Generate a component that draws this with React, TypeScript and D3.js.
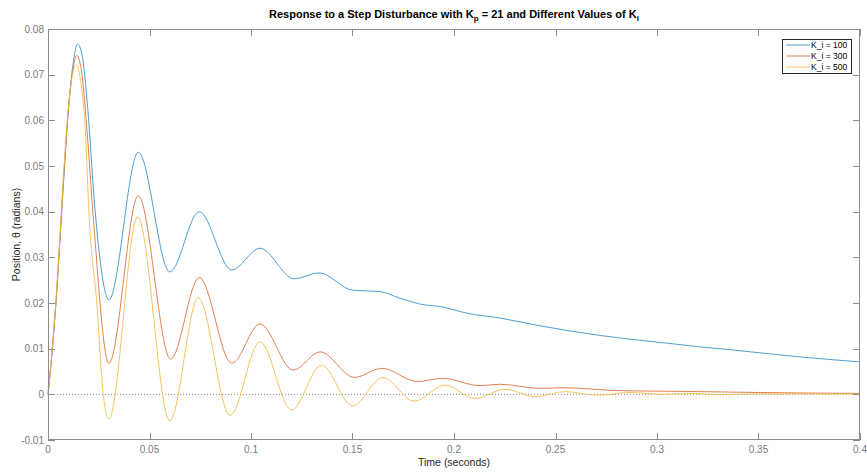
import { useRef, useEffect } from 'react';
import * as d3 from 'd3';

const W = 867;
const H = 475;
const PLOT = { left: 48, right: 860, top: 29, bottom: 440 };

// [time (s), position (rad)]
const KI_100: [number, number][] = [
  [0, 0], [0.002, 0.0092], [0.004, 0.0205], [0.006, 0.0345], [0.008, 0.049],
  [0.010, 0.062], [0.012, 0.0712], [0.0146, 0.0767], [0.017, 0.0738], [0.0195, 0.063],
  [0.0232, 0.0402], [0.030, 0.0207], [0.0445, 0.053], [0.060, 0.0268], [0.0745, 0.040],
  [0.0905, 0.0272], [0.1044, 0.032], [0.1213, 0.0253], [0.1335, 0.0266], [0.150, 0.0228],
  [0.1635, 0.0225], [0.173, 0.0211], [0.183, 0.0198], [0.1948, 0.0191], [0.206, 0.0178],
  [0.2227, 0.0167], [0.2424, 0.015], [0.272, 0.0129], [0.3048, 0.0112], [0.321, 0.0104],
  [0.3376, 0.0097], [0.3704, 0.0082], [0.4, 0.0071],
];

const KI_300: [number, number][] = [
  [0, 0], [0.002, 0.0093], [0.004, 0.0208], [0.006, 0.035], [0.008, 0.0495],
  [0.010, 0.0622], [0.012, 0.0703], [0.0141, 0.0742], [0.0165, 0.0708], [0.019, 0.059],
  [0.0222, 0.0394], [0.030, 0.0068], [0.0445, 0.0435], [0.0604, 0.0077], [0.0745, 0.0256],
  [0.0905, 0.0068], [0.1044, 0.0154], [0.1208, 0.0053], [0.134, 0.0093], [0.151, 0.0037],
  [0.1644, 0.0057], [0.182, 0.0028], [0.1943, 0.0035], [0.2128, 0.0019], [0.2227, 0.0022],
  [0.2424, 0.0013], [0.253, 0.00145], [0.2818, 0.0008], [0.30, 0.0007], [0.32, 0.0006],
  [0.35, 0.0004], [0.4, 0.0002],
];

const KI_500: [number, number][] = [
  [0, 0], [0.002, 0.0095], [0.004, 0.021], [0.006, 0.0355], [0.008, 0.0505],
  [0.010, 0.0625], [0.012, 0.0700], [0.0138, 0.0721], [0.016, 0.0688], [0.0185, 0.057],
  [0.0202, 0.0394], [0.024, 0.0202], [0.0272, 0.0], [0.030, -0.0054], [0.0442, 0.0389],
  [0.060, -0.0058], [0.074, 0.0211], [0.0897, -0.0046], [0.1044, 0.0115], [0.120, -0.0034],
  [0.1348, 0.0064], [0.150, -0.0025], [0.165, 0.0037], [0.1803, -0.0015], [0.1956, 0.002],
  [0.2103, -0.0009], [0.2251, 0.0011], [0.240, -0.0005], [0.2547, 0.0006], [0.2703, -0.0002],
  [0.2867, 0.0004], [0.302, 0.0], [0.317, 0.0002], [0.332, -0.0001], [0.35, 0.0001],
  [0.4, 0.0001],
];

const SERIES_NAMES = ['K_i = 100', 'K_i = 300', 'K_i = 500'];
const SERIES_COLORS = ['#2f8cd0', '#de6a35', '#efbb3e'];
const X_TICKS = [0, 0.05, 0.1, 0.15, 0.2, 0.25, 0.3, 0.35, 0.4];
const Y_TICKS = [-0.01, 0, 0.01, 0.02, 0.03, 0.04, 0.05, 0.06, 0.07, 0.08];

const FONT = '"Liberation Sans", Arial, Helvetica, sans-serif';
const AXIS_COLOR = '#8c8c8c';
const TICK_LEN = 7;

export default function App() {
  const svgRef = useRef<SVGSVGElement | null>(null);

  useEffect(() => {
    if (!svgRef.current) return;
    const svg = d3.select(svgRef.current);
    svg.selectAll('*').remove();

    const x = d3.scaleLinear().domain([0, 0.4]).range([PLOT.left, PLOT.right]);
    const y = d3.scaleLinear().domain([-0.01, 0.08]).range([PLOT.bottom, PLOT.top]);

    svg.append('rect').attr('width', W).attr('height', H).attr('fill', '#fff');

    // zero reference line
    svg.append('line')
      .attr('x1', x(0)).attr('x2', x(0.4))
      .attr('y1', y(0)).attr('y2', y(0))
      .attr('stroke', '#8a8a8a').attr('stroke-width', 1)
      .attr('stroke-dasharray', '1,2');

    const line = d3.line<[number, number]>()
      .x((d) => x(d[0]))
      .y((d) => y(d[1]))
      .curve(d3.curveMonotoneX);

    [KI_100, KI_300, KI_500].forEach((data, i) => {
      svg.append('path')
        .attr('d', line(data) ?? '')
        .attr('fill', 'none')
        .attr('stroke', SERIES_COLORS[i])
        .attr('stroke-width', 0.85);
    });

    // --- Axes (box with inward ticks on all sides) ---
    const ax = svg.append('g').attr('stroke', AXIS_COLOR).attr('stroke-width', 1).attr('fill', 'none');
    ax.append('rect')
      .attr('x', PLOT.left + 0.5).attr('y', PLOT.top + 0.5)
      .attr('width', PLOT.right - PLOT.left - 1).attr('height', PLOT.bottom - PLOT.top - 1);
    X_TICKS.forEach((t) => {
      const px = Math.round(x(t)) + 0.5;
      ax.append('line').attr('x1', px).attr('x2', px).attr('y1', PLOT.bottom).attr('y2', PLOT.bottom - TICK_LEN);
      ax.append('line').attr('x1', px).attr('x2', px).attr('y1', PLOT.top).attr('y2', PLOT.top + TICK_LEN);
    });
    Y_TICKS.forEach((t) => {
      const py = Math.round(y(t)) + 0.5;
      ax.append('line').attr('x1', PLOT.left).attr('x2', PLOT.left + TICK_LEN).attr('y1', py).attr('y2', py);
      ax.append('line').attr('x1', PLOT.right).attr('x2', PLOT.right - TICK_LEN).attr('y1', py).attr('y2', py);
    });

    const fmt = (v: number) => (Math.abs(v) < 1e-12 ? '0' : String(+v.toFixed(3)));

    svg.append('g').selectAll('text').data(X_TICKS).join('text')
      .attr('x', (d) => x(d)).attr('y', PLOT.bottom + 13)
      .attr('text-anchor', 'middle')
      .attr('font-family', FONT).attr('font-size', 10).attr('fill', '#7a7a7a')
      .text((d) => fmt(d));

    svg.append('g').selectAll('text').data(Y_TICKS).join('text')
      .attr('x', PLOT.left - 4).attr('y', (d) => y(d) + 3.5)
      .attr('text-anchor', 'end')
      .attr('font-family', FONT).attr('font-size', 10).attr('fill', '#7a7a7a')
      .text((d) => fmt(d));

    // axis labels
    svg.append('text')
      .attr('x', (PLOT.left + PLOT.right) / 2).attr('y', 466)
      .attr('text-anchor', 'middle')
      .attr('font-family', FONT).attr('font-size', 10.5).attr('fill', '#262626')
      .text('Time (seconds)');

    svg.append('text')
      .attr('transform', `translate(20,${(PLOT.top + PLOT.bottom) / 2}) rotate(-90)`)
      .attr('text-anchor', 'middle')
      .attr('font-family', FONT).attr('font-size', 10.5).attr('fill', '#262626')
      .text('Position, θ (radians)');

    // title with subscripts
    const title = svg.append('text')
      .attr('x', (PLOT.left + PLOT.right) / 2).attr('y', 18)
      .attr('text-anchor', 'middle')
      .attr('font-family', FONT).attr('font-size', 11).attr('font-weight', 'bold').attr('fill', '#000');
    title.append('tspan').text('Response to a Step Disturbance with K');
    title.append('tspan').attr('font-size', 8).attr('dy', 3).text('p');
    title.append('tspan').attr('dy', -3).text(' = 21 and Different Values of K');
    title.append('tspan').attr('font-size', 8).attr('dy', 3).text('i');

    // legend
    const lg = svg.append('g').attr('transform', 'translate(782,39)');
    lg.append('rect')
      .attr('x', 0.5).attr('y', 0.5).attr('width', 69).attr('height', 34)
      .attr('fill', '#fff').attr('stroke', '#262626').attr('stroke-width', 1);
    SERIES_NAMES.forEach((name, i) => {
      const ly = 6 + i * 11;
      lg.append('line')
        .attr('x1', 4).attr('x2', 28).attr('y1', ly).attr('y2', ly)
        .attr('stroke', SERIES_COLORS[i]).attr('stroke-width', 0.85);
      lg.append('text')
        .attr('x', 29).attr('y', ly + 3)
        .attr('font-family', FONT).attr('font-size', 8.5).attr('fill', '#000')
        .text(name);
    });
  }, []);

  return (
    <div style={{ position: 'absolute', left: 0, top: 0 }}>
      <svg ref={svgRef} width={W} height={H} />
    </div>
  );
}
